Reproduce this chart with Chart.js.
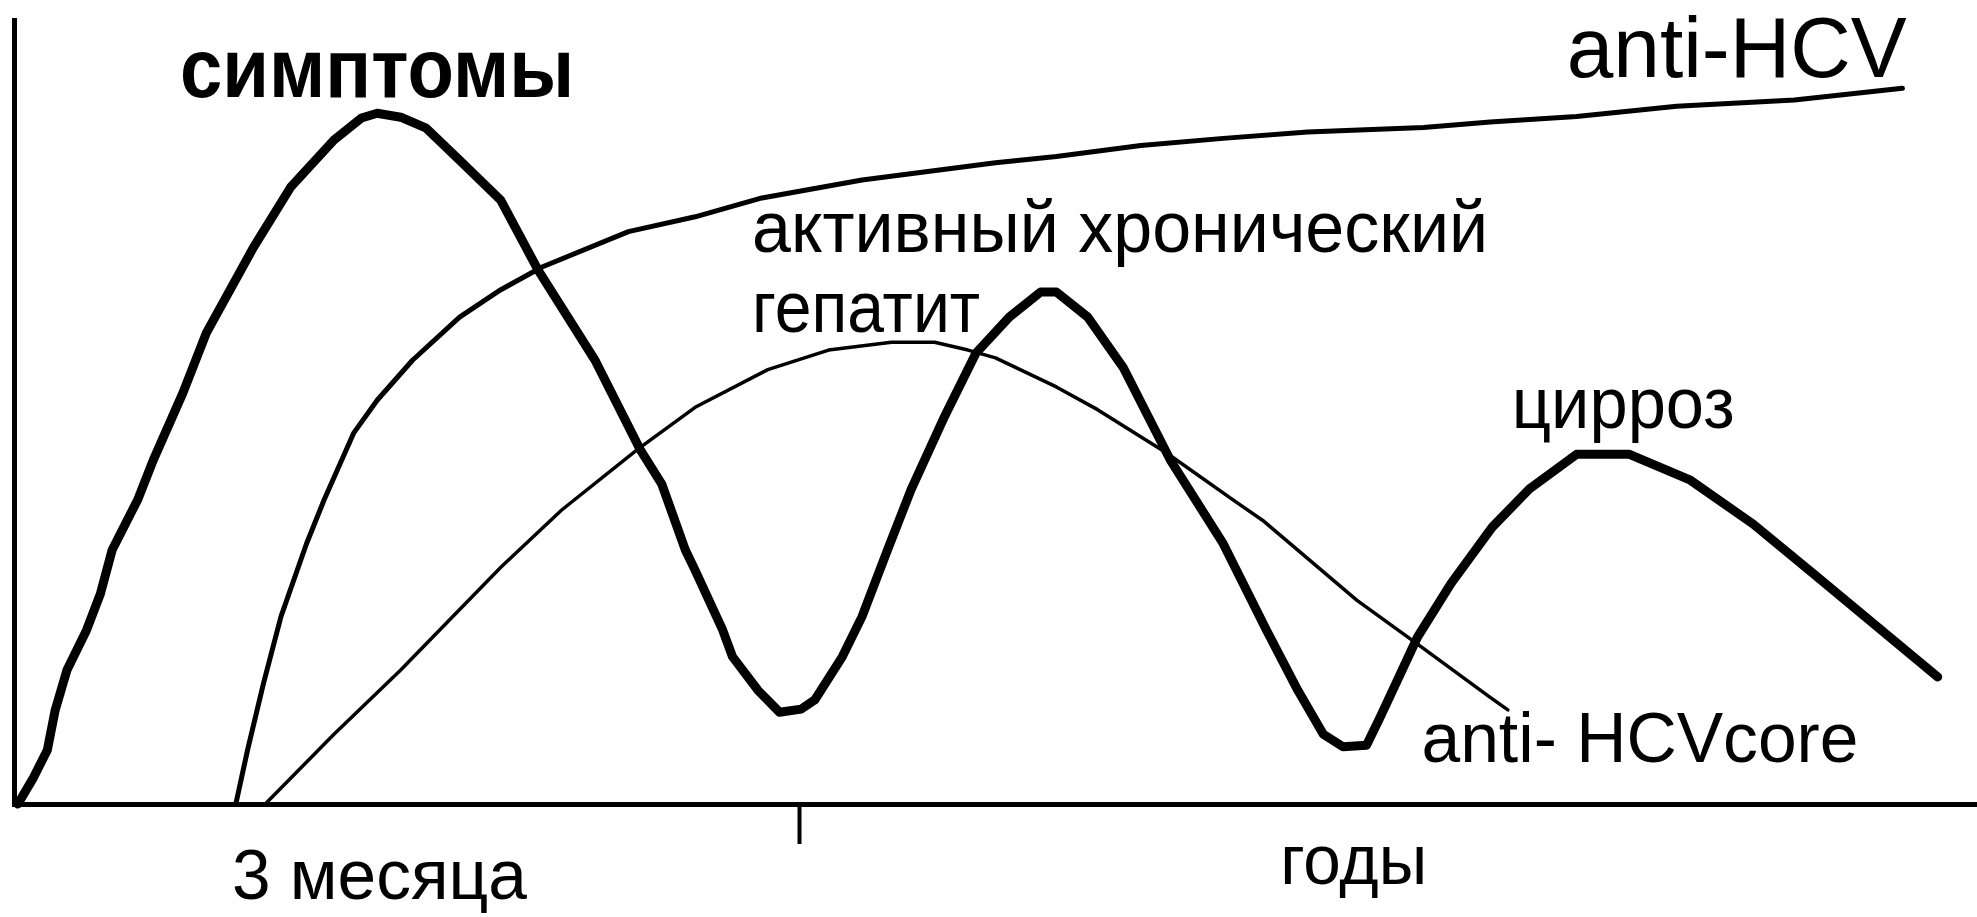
<!DOCTYPE html>
<html>
<head>
<meta charset="utf-8">
<script src="https://cdn.jsdelivr.net/npm/chart.js"></script>
<style>
  html, body { margin: 0; padding: 0; background: #fff; }
  #wrap { width: 1977px; height: 917px; }
</style>
</head>
<body>
<div id="wrap"><canvas id="hcvChart"></canvas></div>
<script>
// time axis runs 0..100 (mark at 40 splits months from years), level 0..100
const diseaseX = [0.2, 1.0, 1.7, 2.1, 2.7, 3.7, 4.4, 5.0, 6.3, 7.1, 8.6, 9.8, 12.2, 14.1, 16.3, 17.7, 18.5, 19.7, 21.0, 22.7, 24.8, 26.7, 29.6, 31.9, 33.0, 34.2, 34.7, 36.1, 36.6, 37.9, 39.0, 40.1, 40.8, 42.2, 43.2, 44.5, 45.7, 47.4, 49.0, 50.7, 52.3, 53.1, 54.7, 56.5, 58.9, 61.6, 63.8, 65.4, 66.7, 67.7, 68.9, 69.6, 71.5, 73.2, 75.3, 77.2, 79.6, 82.3, 85.4, 88.6, 91.7, 98.0];
const diseaseY = [0, 3.4, 6.9, 12.0, 17.1, 22.2, 26.8, 32.4, 38.8, 43.9, 52.4, 60.1, 71.0, 78.7, 84.7, 87.5, 88.1, 87.6, 86.2, 82.1, 77.0, 68.1, 56.6, 45.2, 40.8, 32.4, 29.8, 22.2, 18.8, 14.5, 11.7, 12.1, 13.3, 18.8, 23.9, 32.4, 40.1, 49.4, 57.5, 62.1, 65.3, 65.3, 62.1, 55.7, 43.9, 33.2, 22.2, 14.5, 8.9, 7.3, 7.5, 11.1, 21.3, 28.1, 35.3, 40.2, 44.6, 44.6, 41.3, 35.7, 29.3, 16.2];

const antiHcvX = [11.3, 11.9, 12.7, 13.6, 14.9, 15.8, 17.3, 18.5, 20.3, 22.7, 24.8, 26.9, 31.3, 34.7, 38.1, 43.2, 50.0, 53.1, 57.4, 61.6, 65.9, 71.8, 75.2, 79.6, 84.7, 90.7, 96.2];
const antiHcvY = [0, 6.9, 15.3, 23.9, 33.2, 38.8, 47.3, 51.5, 56.6, 62.1, 65.6, 68.5, 73.0, 74.9, 77.3, 79.6, 81.8, 82.6, 84.0, 84.9, 85.7, 86.3, 87.0, 87.7, 89.0, 89.8, 91.3];

const coreX = [12.8, 16.3, 19.7, 24.8, 27.9, 31.8, 34.7, 38.4, 41.5, 44.7, 46.9, 48.6, 50.0, 53.1, 55.2, 58.7, 62.1, 63.6, 68.4, 71.5, 75.2, 76.1];
const coreY = [0, 8.9, 17.1, 30.2, 37.5, 45.3, 50.6, 55.4, 57.9, 58.9, 58.9, 57.9, 56.9, 53.2, 50.3, 44.8, 38.8, 36.2, 26.0, 20.4, 13.6, 12.0];

const axisMark = 40;

const labelTexts = ["симптомы", "anti-HCV", "активный хронический", "гепатит", "цирроз", "anti- HCVcore", "3 месяца", "годы"];

// where each caption sits (data units) and how it is set
const labelSpots = [
  { x: 8.46, y: 90.2, font: "bold 84px 'Liberation Sans'", maxWidth: 394 },
  { x: 79.1, y: 92.7, font: "85px 'Liberation Sans'", maxWidth: 340 },
  { x: 37.6, y: 70.4, font: "73px 'Liberation Sans'", maxWidth: 736 },
  { x: 37.6, y: 60.2, font: "73px 'Liberation Sans'", maxWidth: 228 },
  { x: 76.3, y: 48.0, font: "73px 'Liberation Sans'", maxWidth: 223 },
  { x: 71.7, y: 5.4, font: "70px 'Liberation Sans'", maxWidth: 437 },
  { x: 11.1, y: -12.1, font: "70px 'Liberation Sans'", maxWidth: 295 },
  { x: 64.5, y: -10.2, font: "71px 'Liberation Sans'", maxWidth: 147 }
];

function pairs(xs, ys) {
  return xs.map((x, i) => ({ x: x, y: ys[i] }));
}

const captions = {
  id: "captions",
  afterDatasetsDraw(chart) {
    const ctx = chart.ctx;
    const xs = chart.scales.x;
    const ys = chart.scales.y;
    ctx.save();
    ctx.fillStyle = "#000";
    ctx.textAlign = "left";
    ctx.textBaseline = "alphabetic";
    labelTexts.forEach((t, i) => {
      const s = labelSpots[i];
      ctx.font = s.font;
      ctx.fillText(t, xs.getPixelForValue(s.x), ys.getPixelForValue(s.y), s.maxWidth);
    });
    ctx.restore();
  }
};

const line = (data, width) => ({
  data: data,
  showLine: true,
  borderColor: "#000",
  borderWidth: width,
  pointRadius: 0,
  tension: 0,
  borderJoinStyle: "round",
  borderCapStyle: "round",
  clip: false
});

new Chart(document.getElementById("hcvChart"), {
  type: "scatter",
  data: {
    datasets: [
      line(pairs(diseaseX, diseaseY), 9),
      line(pairs(antiHcvX, antiHcvY), 5),
      line(pairs(coreX, coreY), 3.5)
    ]
  },
  options: {
    responsive: true,
    maintainAspectRatio: false,
    animation: false,
    layout: { padding: { left: 14, top: 20, right: 0, bottom: 73 } },
    plugins: { legend: { display: false }, tooltip: { enabled: false } },
    scales: {
      x: {
        type: "linear",
        min: 0,
        max: 100,
        afterBuildTicks: (scale) => { scale.ticks = [{ value: axisMark }]; },
        ticks: { display: false },
        grid: { drawOnChartArea: false, drawTicks: true, tickLength: 40, tickWidth: 4, tickColor: "#000" },
        border: { display: true, color: "#000", width: 5 }
      },
      y: {
        min: 0,
        max: 100,
        ticks: { display: false },
        grid: { display: true, drawOnChartArea: false, drawTicks: false },
        border: { display: true, color: "#000", width: 5 }
      }
    }
  },
  plugins: [captions]
});
</script>
</body>
</html>
